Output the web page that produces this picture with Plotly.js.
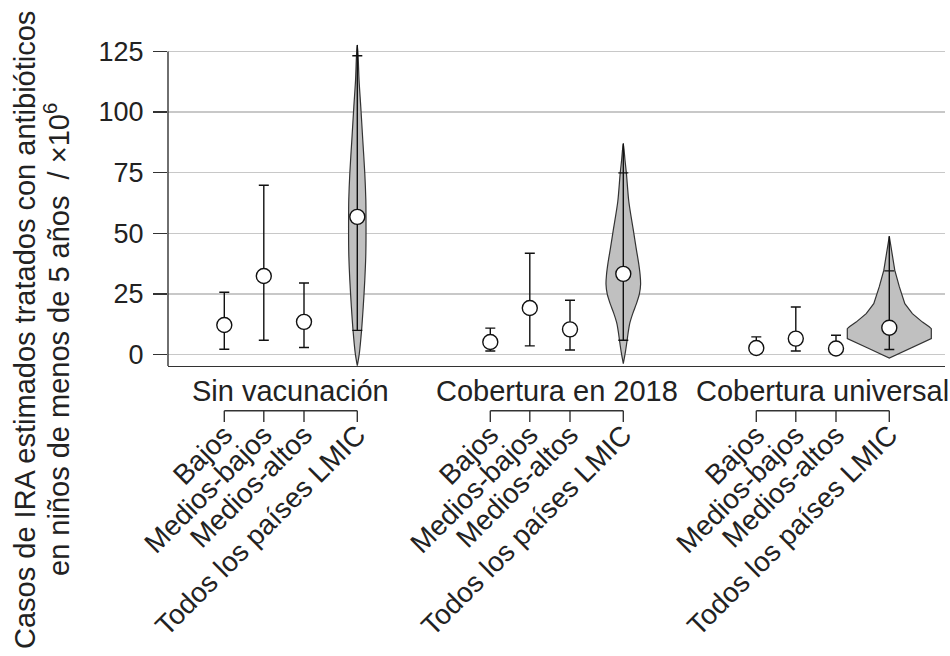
<!DOCTYPE html>
<html>
<head>
<meta charset="utf-8">
<script src="https://cdn.plot.ly/plotly-3.0.1.min.js"></script>
<style>body{margin:0;padding:0;background:#fff;}#chart{width:950px;height:656px;}</style>
</head>
<body>
<div id="chart"></div>
<script>
// ---- data ----
const groups = ["Sin vacunación", "Cobertura en 2018", "Cobertura universal"];
const categories = ["Bajos", "Medios-bajos", "Medios-altos", "Todos los países LMIC"];
const centralSin = [12.2, 32.4, 13.5, 56.8];
const lowerSin   = [2.2, 5.9, 2.9, 10.0];
const upperSin   = [25.7, 69.8, 29.5, 123.2];
const central2018 = [5.2, 19.2, 10.4, 33.3];
const lower2018   = [1.5, 3.6, 1.9, 5.9];
const upper2018   = [10.9, 41.8, 22.4, 74.9];
const centralUniv = [2.7, 6.6, 2.5, 11.1];
const lowerUniv   = [0.8, 1.5, 0.8, 2.1];
const upperUniv   = [7.3, 19.6, 8.0, 34.5];
// violin outlines (value, relative density)
const violinSinY = [127.6, 123.5, 113.2, 102.1, 88.4, 74.8, 63.7, 56.8, 47.2, 40.3, 30.7, 19.6, 10.0, 0.4, -4.6];
const violinSinD = [0, 0.09, 0.2, 0.4, 0.63, 0.86, 0.98, 1, 1, 0.97, 0.86, 0.68, 0.49, 0.23, 0];
const violin2018Y = [87, 80, 74.7, 63, 51.3, 44, 38, 33, 29, 25, 21, 17, 12.8, 9, 5.9, 1, -3.7];
const violin2018D = [0, 0.10, 0.18, 0.32, 0.58, 0.74, 0.88, 0.97, 1, 0.93, 0.76, 0.55, 0.37, 0.28, 0.22, 0.12, 0];
const violinUnivY = [48.8, 41.7, 34.8, 27.9, 21, 16.9, 13.4, 11.5, 10.7, 6.6, 2.6, -1.4];
const violinUnivD = [0, 0.07, 0.13, 0.24, 0.37, 0.55, 0.79, 0.95, 1, 1, 0.5, 0];
const yTicks = [0, 25, 50, 75, 100, 125];

// ---- layout constants ----
const firstPos = 56.3, groupStep = 266, slotOffsets = [0, 39.5, 79.7, 133];
const violinHalfWidth = [8.7, 17.3, 42];
const violinSmooth = [true, true, false];
const txt = '#222', lineCol = '#333';
const FONT = 'Liberation Sans, Arial, Helvetica, sans-serif';

const central = [centralSin, central2018, centralUniv];
const lower = [lowerSin, lower2018, lowerUniv];
const upper = [upperSin, upper2018, upperUniv];
const vY = [violinSinY, violin2018Y, violinUnivY];
const vD = [violinSinD, violin2018D, violinUnivD];

const traces = [];
const tickvals = [], ticktext = [];
const shapes = [], annotations = [];

groups.forEach((g, gi) => {
  const pos = slotOffsets.map(o => firstPos + gi * groupStep + o);
  pos.forEach((p, i) => { tickvals.push(p); ticktext.push(categories[i]); });
  const c = pos[3];
  const ys = vY[gi], ds = vD[gi], hw = violinHalfWidth[gi];
  const vx = ys.map((y, k) => c + ds[k] * hw).concat(ys.slice().reverse().map((y, k) => c - ds[ds.length - 1 - k] * hw));
  const vy = ys.concat(ys.slice().reverse());
  traces.push({type: 'scatter', mode: 'lines', x: vx, y: vy, fill: 'toself', fillcolor: '#c0c0c0',
    line: {color: lineCol, width: 1.2, shape: violinSmooth[gi] ? 'spline' : 'linear', smoothing: 0.8},
    hoverinfo: 'skip', showlegend: false});
  traces.push({type: 'scatter', mode: 'lines', x: [c, c], y: [ys[0], upper[gi][3]],
    line: {color: '#111', width: 1.4}, showlegend: false, hoverinfo: 'skip'});
  traces.push({type: 'scatter', mode: 'markers', x: pos, y: central[gi],
    error_y: {type: 'data', symmetric: false,
      array: upper[gi].map((u, i) => u - central[gi][i]),
      arrayminus: central[gi].map((m, i) => m - lower[gi][i]),
      color: '#111', thickness: 1.4, width: 5},
    marker: {size: 15, color: '#fff', line: {color: '#111', width: 1.4}},
    showlegend: false, name: g});
  const yb0 = -(410.7 - 366) / 326, yb1 = -(422 - 366) / 326;
  shapes.push({type: 'line', xref: 'x', yref: 'paper', x0: pos[0], x1: pos[3], y0: yb0, y1: yb0, line: {color: lineCol, width: 1.4}});
  pos.forEach(p => shapes.push({type: 'line', xref: 'x', yref: 'paper', x0: p, x1: p, y0: yb0, y1: yb1, line: {color: lineCol, width: 1.4}}));
  annotations.push({xref: 'x', yref: 'paper', x: (pos[0] + pos[3]) / 2, y: -(391 - 366) / 326,
    xanchor: 'center', yanchor: 'middle', text: g, showarrow: false, font: {size: 29, color: txt, family: FONT}});
});

shapes.push({type: 'line', xref: 'paper', yref: 'y', x0: 0, x1: 0, y0: -4.7, y1: 125, line: {color: lineCol, width: 1.4}});

annotations.push({xref: 'paper', yref: 'paper', x: (25 - 168) / 777, y: (366 - 330) / 326, xanchor: 'center', yanchor: 'middle',
  textangle: -90, showarrow: false, text: 'Casos de IRA estimados tratados con antibióticos', font: {size: 29, color: txt, family: FONT}});
annotations.push({xref: 'paper', yref: 'paper', x: (57 - 168) / 777, y: (366 - 340) / 326, xanchor: 'center', yanchor: 'middle',
  textangle: -90, showarrow: false, text: 'en niños de menos de 5 años  / ×10<sup>6</sup>', font: {size: 29, color: txt, family: FONT}});

const layout = {
  width: 950, height: 656,
  margin: {l: 168, r: 5, t: 40, b: 290},
  paper_bgcolor: '#fff', plot_bgcolor: '#fff',
  font: {family: FONT, color: txt},
  showlegend: false,
  xaxis: {range: [0, 777], tickvals: tickvals, ticktext: ticktext, tickangle: -45,
    tickfont: {size: 28, color: txt, family: FONT}, ticks: '', showgrid: false, zeroline: false,
    showline: true, linecolor: lineCol, linewidth: 1.4, ticklabelstandoff: 40, fixedrange: true},
  yaxis: {range: [-4.7, 129.7], tickvals: yTicks, ticktext: yTicks.map(String),
    tickfont: {size: 27, color: txt, family: FONT}, ticks: 'outside', ticklen: 14, tickwidth: 1.4, tickcolor: lineCol,
    ticklabelstandoff: 4,
    showgrid: true, gridcolor: '#c8c8c8', gridwidth: 1.5, zeroline: false, showline: false},
  shapes: shapes,
  annotations: annotations
};

Plotly.newPlot('chart', traces, layout, {displayModeBar: false, staticPlot: true});
</script>
</body>
</html>
